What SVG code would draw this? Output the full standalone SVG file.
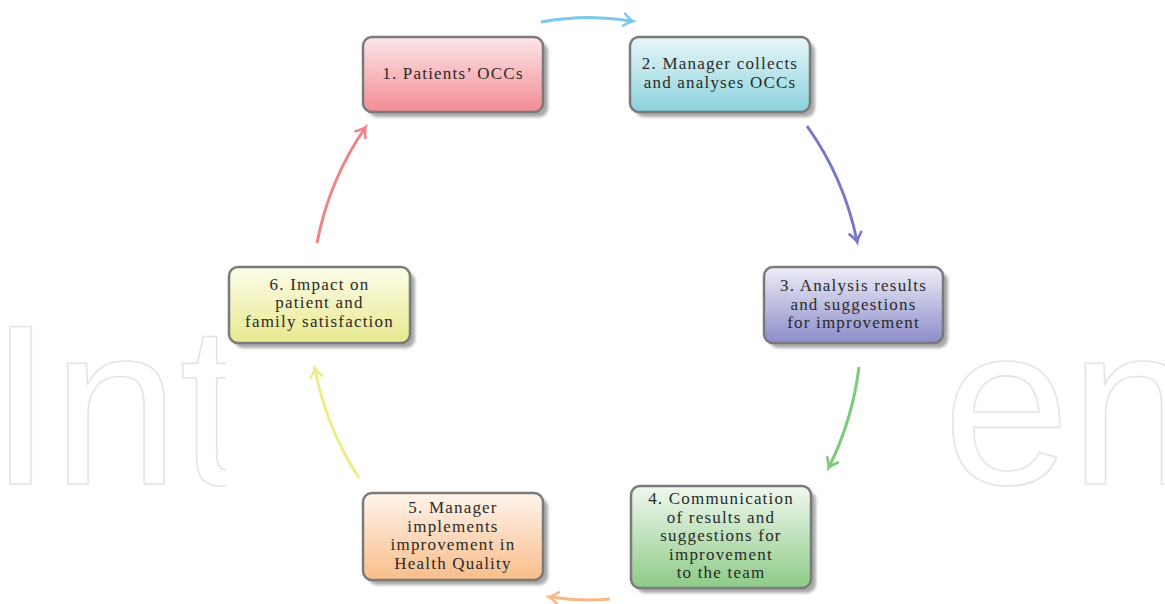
<svg xmlns="http://www.w3.org/2000/svg" width="1165" height="604" viewBox="0 0 1165 604">
<style>
.wm{font-family:"Liberation Sans",Arial,sans-serif;font-size:228px;fill:none;stroke:#e4e4e4;stroke-width:1.6}
.box{stroke:#7a7a7a;stroke-width:2.5}
.shadow{fill:#a9a9a9;filter:url(#blur)}
.lbl{font-family:"Liberation Serif","Times New Roman",serif;font-size:17px;letter-spacing:1.2px;fill:#2a2a2a;text-anchor:middle}
.arc{fill:none;stroke-width:3}
</style>
<defs>
<filter id="blur" x="-10%" y="-10%" width="120%" height="130%"><feGaussianBlur stdDeviation="1.5"/></filter>
<clipPath id="clipL"><rect x="0" y="0" width="226" height="604"/></clipPath>
<linearGradient id="g1" x1="0" y1="0" x2="0" y2="1"><stop offset="0" stop-color="#fde6e8"/><stop offset="1" stop-color="#f28c93"/></linearGradient>
<linearGradient id="g2" x1="0" y1="0" x2="0" y2="1"><stop offset="0" stop-color="#e8f7f9"/><stop offset="1" stop-color="#8ad2dc"/></linearGradient>
<linearGradient id="g3" x1="0" y1="0" x2="0" y2="1"><stop offset="0" stop-color="#eeeef8"/><stop offset="1" stop-color="#8c8cca"/></linearGradient>
<linearGradient id="g4" x1="0" y1="0" x2="0" y2="1"><stop offset="0" stop-color="#f0f8ee"/><stop offset="1" stop-color="#8dcb87"/></linearGradient>
<linearGradient id="g5" x1="0" y1="0" x2="0" y2="1"><stop offset="0" stop-color="#fff4ec"/><stop offset="1" stop-color="#f9bd8a"/></linearGradient>
<linearGradient id="g6" x1="0" y1="0" x2="0" y2="1"><stop offset="0" stop-color="#fcfcea"/><stop offset="1" stop-color="#e8e98e"/></linearGradient>
<marker id="mB" markerUnits="userSpaceOnUse" viewBox="-12 -8 14 16" markerWidth="14" markerHeight="16" refX="-1" refY="0" orient="auto" overflow="visible"><path d="M-9,-6 Q-3,-1 0,0 Q-3,1 -9,6" fill="none" stroke="#7cc8ea" stroke-width="2.6" stroke-linecap="round"/></marker>
<marker id="mP" markerUnits="userSpaceOnUse" viewBox="-12 -8 14 16" markerWidth="14" markerHeight="16" refX="-1" refY="0" orient="auto" overflow="visible"><path d="M-9,-6 Q-3,-1 0,0 Q-3,1 -9,6" fill="none" stroke="#7878c6" stroke-width="2.6" stroke-linecap="round"/></marker>
<marker id="mG" markerUnits="userSpaceOnUse" viewBox="-12 -8 14 16" markerWidth="14" markerHeight="16" refX="-1" refY="0" orient="auto" overflow="visible"><path d="M-9,-6 Q-3,-1 0,0 Q-3,1 -9,6" fill="none" stroke="#7ccb7a" stroke-width="2.6" stroke-linecap="round"/></marker>
<marker id="mO" markerUnits="userSpaceOnUse" viewBox="-12 -8 14 16" markerWidth="14" markerHeight="16" refX="-1" refY="0" orient="auto" overflow="visible"><path d="M-9,-6 Q-3,-1 0,0 Q-3,1 -9,6" fill="none" stroke="#f8b887" stroke-width="2.6" stroke-linecap="round"/></marker>
<marker id="mY" markerUnits="userSpaceOnUse" viewBox="-12 -8 14 16" markerWidth="14" markerHeight="16" refX="-1" refY="0" orient="auto" overflow="visible"><path d="M-9,-6 Q-3,-1 0,0 Q-3,1 -9,6" fill="none" stroke="#ecec8c" stroke-width="2.6" stroke-linecap="round"/></marker>
<marker id="mR" markerUnits="userSpaceOnUse" viewBox="-12 -8 14 16" markerWidth="14" markerHeight="16" refX="-1" refY="0" orient="auto" overflow="visible"><path d="M-9,-6 Q-3,-1 0,0 Q-3,1 -9,6" fill="none" stroke="#f08384" stroke-width="2.6" stroke-linecap="round"/></marker>
</defs>
<rect width="1165" height="604" fill="#ffffff"/>
<g id="watermark">
<text class="wm" x="-11" y="484" clip-path="url(#clipL)">Int</text>
<text class="wm" x="943" y="484">en</text>
</g>
<g id="connectors">
<path class="arc" stroke="#7cc8ea" marker-end="url(#mB)" d="M541,22 A276 294 0 0 1 632,21"/>
<path class="arc" stroke="#7878c6" marker-end="url(#mP)" d="M807,126 A276 294 0 0 1 857,241"/>
<path class="arc" stroke="#7ccb7a" marker-end="url(#mG)" d="M859,367 A276 294 0 0 1 829,467"/>
<path class="arc" stroke="#f8b887" marker-end="url(#mO)" d="M610,599 A276 294 0 0 1 550,597"/>
<path class="arc" stroke="#ecec8c" marker-end="url(#mY)" d="M359,478 A276 294 0 0 1 315,369"/>
<path class="arc" stroke="#f08384" marker-end="url(#mR)" d="M317,243 A276 294 0 0 1 365,128"/>
</g>
<g id="node1">
<rect class="shadow" x="368" y="42" width="180" height="75" rx="9"/>
<rect class="box" x="363" y="37" width="180" height="75" rx="9" fill="url(#g1)"/>
<text class="lbl" x="453" y="79">1.  Patients’ OCCs</text>
</g>
<g id="node2">
<rect class="shadow" x="635" y="42" width="180" height="75" rx="9"/>
<rect class="box" x="630" y="37" width="180" height="75" rx="9" fill="url(#g2)"/>
<text class="lbl" x="720" y="69">2.  Manager collects</text>
<text class="lbl" x="720" y="88">and analyses OCCs</text>
</g>
<g id="node3">
<rect class="shadow" x="769" y="272" width="179" height="76" rx="9"/>
<rect class="box" x="764" y="267" width="179" height="76" rx="9" fill="url(#g3)"/>
<text class="lbl" x="853.5" y="291">3.  Analysis results</text>
<text class="lbl" x="853.5" y="310">and suggestions</text>
<text class="lbl" x="853.5" y="328">for improvement</text>
</g>
<g id="node4">
<rect class="shadow" x="636" y="491" width="180" height="102" rx="9"/>
<rect class="box" x="631" y="486" width="180" height="102" rx="9" fill="url(#g4)"/>
<text class="lbl" x="721" y="504">4.  Communication</text>
<text class="lbl" x="721" y="523">of results and</text>
<text class="lbl" x="721" y="541">suggestions for</text>
<text class="lbl" x="721" y="560">improvement</text>
<text class="lbl" x="721" y="578">to the team</text>
</g>
<g id="node5">
<rect class="shadow" x="368" y="498" width="180" height="87" rx="9"/>
<rect class="box" x="363" y="493" width="180" height="87" rx="9" fill="url(#g5)"/>
<text class="lbl" x="453" y="513">5.  Manager</text>
<text class="lbl" x="453" y="532">implements</text>
<text class="lbl" x="453" y="550">improvement in</text>
<text class="lbl" x="453" y="569">Health Quality</text>
</g>
<g id="node6">
<rect class="shadow" x="234" y="272" width="181" height="76" rx="9"/>
<rect class="box" x="229" y="267" width="181" height="76" rx="9" fill="url(#g6)"/>
<text class="lbl" x="319.5" y="290">6.  Impact on</text>
<text class="lbl" x="319.5" y="308">patient and</text>
<text class="lbl" x="319.5" y="327">family satisfaction</text>
</g>
</svg>
